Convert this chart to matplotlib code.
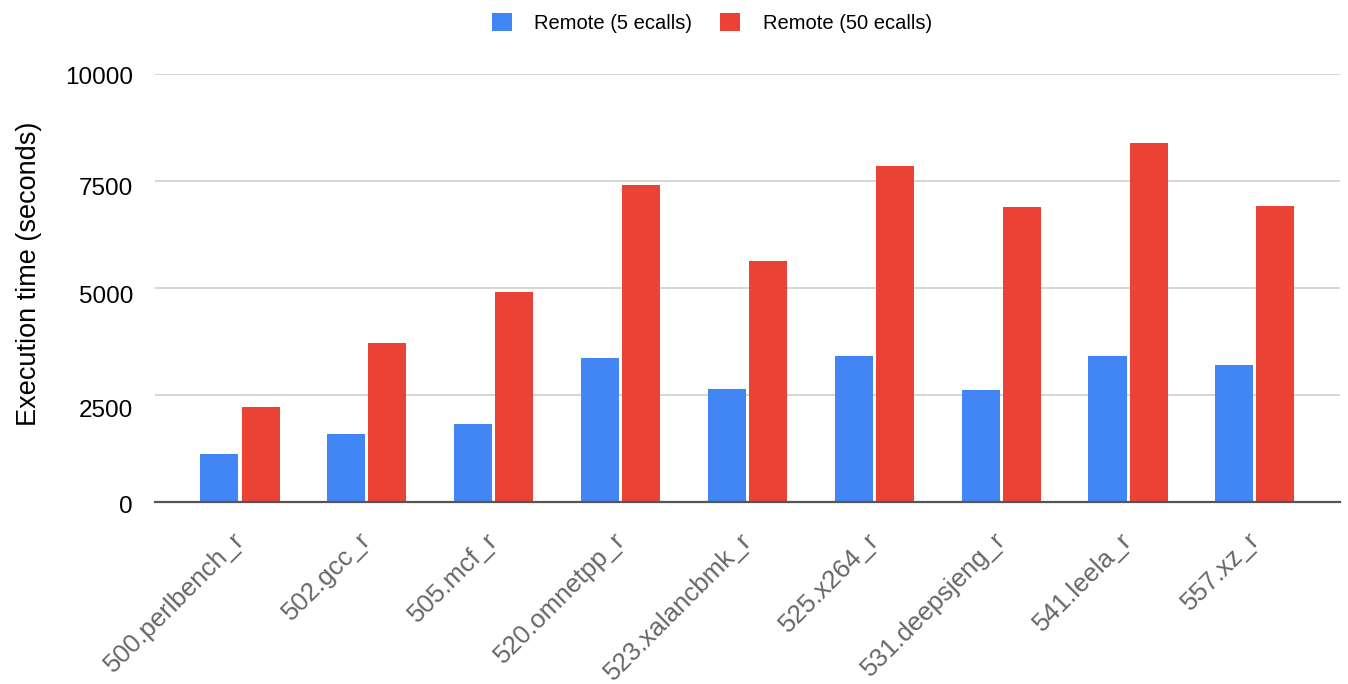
import numpy as np
import matplotlib
matplotlib.use("Agg")
import matplotlib.pyplot as plt

# benchmarks and execution times (seconds)
benchmarks = ["500.perlbench_r", "502.gcc_r", "505.mcf_r", "520.omnetpp_r",
              "523.xalancbmk_r", "525.x264_r", "531.deepsjeng_r", "541.leela_r", "557.xz_r"]
remote_5 = [1115, 1585, 1825, 3365, 2650, 3405, 2615, 3405, 3200]
remote_50 = [2220, 3725, 4915, 7405, 5625, 7845, 6880, 8390, 6915]
series_names = ["Remote (5 ecalls)", "Remote (50 ecalls)"]
yticks = [0, 2500, 5000, 7500, 10000]

blue = "#4285F4"
red = "#EA4335"

plt.rcParams["font.family"] = ["Liberation Sans", "DejaVu Sans"]

fig = plt.figure(figsize=(13.48, 6.84), dpi=100)
ax = fig.add_axes([0.115, 0.266, 0.879, 0.626])
px = 72 / fig.dpi  # points per pixel

x = np.arange(len(benchmarks))
w = 0.30
gap = 0.012
b1 = ax.bar(x - w / 2 - gap, remote_5, w, color=blue, label=series_names[0], zorder=3)
b2 = ax.bar(x + w / 2 + gap, remote_50, w, color=red, label=series_names[1], zorder=3)

ax.set_xlim(-0.67, len(benchmarks) - 1 + 0.67)
ax.set_ylim(0, 10000)
ax.set_yticks(yticks)
ax.set_xticks(x)
ax.tick_params(axis="both", length=0, labelleft=False, labelbottom=False)

# y tick labels drawn by hand: google charts puts them a bit under the gridlines
ydrop = [5, 16, 9, 8, 4]
for t, d in zip(yticks, ydrop):
    ax.annotate(str(t), xy=(0, t), xycoords=ax.get_yaxis_transform(),
                xytext=(-22 * px, -d * px), textcoords="offset points",
                ha="right", va="center", fontsize=17.5, color="#000000")

# rotated category labels
for xi, name in zip(x, benchmarks):
    ax.annotate(name, xy=(xi, 0), xycoords=ax.get_xaxis_transform(),
                xytext=(-8 * px, -26 * px), textcoords="offset points",
                rotation=45, rotation_mode="anchor", ha="right", va="top",
                fontsize=18.6, color="#666666")

ax.grid(axis="y", color="#d3d3d3", linewidth=1.3, zorder=0)
for s in ["top", "right", "left"]:
    ax.spines[s].set_visible(False)
ax.spines["bottom"].set_color("#555555")
ax.spines["bottom"].set_linewidth(1.6)
ax.spines["bottom"].set_zorder(4)

ax.set_ylabel("Execution time (seconds)", fontsize=19.5)
ax.yaxis.set_label_coords(-0.0954, 0.533)

leg = fig.legend(handles=[b1, b2], loc="center", bbox_to_anchor=(0.528, 0.966),
                 ncol=2, frameon=False, fontsize=14.5, handlelength=1.0, handleheight=1.0,
                 columnspacing=1.4, handletextpad=1.1)

fig.savefig("out.png", dpi=100, facecolor="white")
